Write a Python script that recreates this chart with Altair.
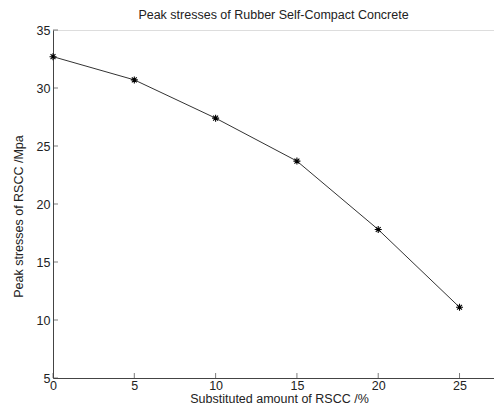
import altair as alt
import pandas as pd

# Data
substituted = [0, 5, 10, 15, 20, 25]
peak_stress = [32.7, 30.7, 27.4, 23.7, 17.8, 11.1]
x_ticks = [0, 5, 10, 15, 20, 25]
y_ticks = [5, 10, 15, 20, 25, 30, 35]

df = pd.DataFrame({"x": substituted, "y": peak_stress})
xt = pd.DataFrame({"v": x_ticks})
yt = pd.DataFrame({"v": y_ticks})

W, H = 441, 348
FONT = "Liberation Sans"
FS = 12.5
AX = "#444444"
TXT = "#222222"

xscale = alt.Scale(domain=[0, 27.12], nice=False, zero=False)
yscale = alt.Scale(domain=[5, 35], nice=False, zero=False)

xaxis = alt.Axis(values=x_ticks, ticks=False, grid=False, domainColor=AX,
                 labelColor=TXT, labelFont=FONT, labelFontSize=FS,
                 labelPadding=1, labelFlush=False, labelOverlap=False,
                 title="Substituted amount of RSCC /%", titleFont=FONT,
                 titleFontSize=FS, titleFontWeight="normal", titleColor=TXT,
                 titleY=24, titleX=226, titleBaseline="alphabetic")
yaxis = alt.Axis(values=y_ticks, ticks=False, grid=False, domainColor=AX,
                 labelColor=TXT, labelFont=FONT, labelFontSize=FS,
                 labelPadding=3, labelFlush=False, labelOverlap=False,
                 title="Peak stresses of RSCC /Mpa", titleFont=FONT,
                 titleFontSize=FS, titleFontWeight="normal", titleColor=TXT,
                 titleX=-35, titleY=186, titleAngle=-90, titleAlign="center",
                 titleBaseline="middle")

line = alt.Chart(df).mark_line(color="#333333", strokeWidth=1).encode(
    x=alt.X("x:Q", scale=xscale, axis=xaxis),
    y=alt.Y("y:Q", scale=yscale, axis=yaxis),
)

star = "M-1,0L1,0M0,-1L0,1M-0.7,-0.7L0.7,0.7M-0.7,0.7L0.7,-0.7"
points = alt.Chart(df).mark_point(shape=star, size=49, filled=False,
                                  color="black", strokeWidth=1.1, opacity=1).encode(
    x=alt.X("x:Q", scale=xscale),
    y=alt.Y("y:Q", scale=yscale),
)

xticks = alt.Chart(xt).mark_tick(orient="vertical", color=AX, size=5, thickness=1).encode(
    x=alt.X("v:Q", scale=xscale),
    y=alt.value(H - 2.5),
)
yticks = alt.Chart(yt).mark_tick(orient="horizontal", color=AX, size=5, thickness=1).encode(
    y=alt.Y("v:Q", scale=yscale),
    x=alt.value(2.5),
)

chart = alt.layer(line, points, xticks, yticks).properties(
    width=W, height=H,
    title=alt.TitleParams("Peak stresses of Rubber Self-Compact Concrete",
                          font=FONT, fontSize=FS, fontWeight="normal",
                          color=TXT, offset=3, anchor="middle"),
    autosize=alt.AutoSizeParams(type="none"),
    padding={"left": 45, "top": 22, "right": 0, "bottom": 26},
).configure_view(stroke=None).configure(background="white")

chart.save("out.html", embed_options={"renderer": "svg", "actions": False})
